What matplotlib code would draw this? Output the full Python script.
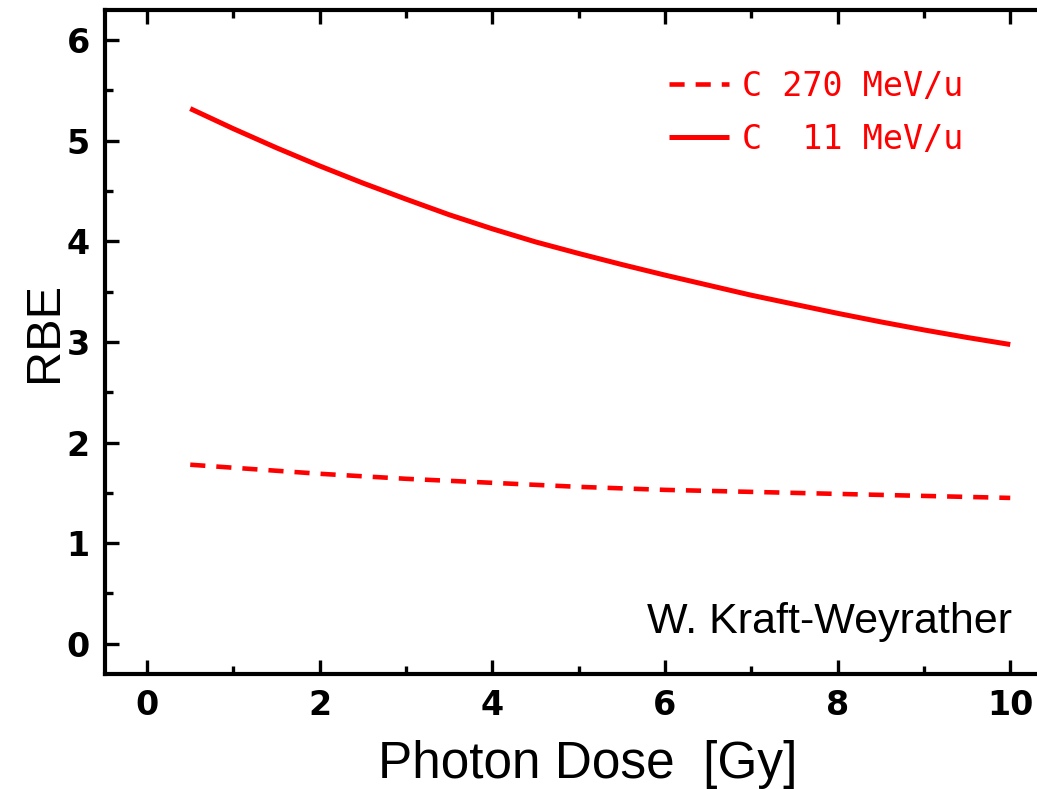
import matplotlib
matplotlib.use('Agg')
import matplotlib.pyplot as plt
from matplotlib.ticker import MultipleLocator

# RBE vs photon dose
dose_270 = [0.5, 1, 2, 3, 4, 5, 6, 7, 8, 9, 10]
rbe_270 = [1.78, 1.75, 1.69, 1.64, 1.60, 1.56, 1.53, 1.51, 1.49, 1.47, 1.45]

dose_11 = [0.5, 1, 1.5, 2, 2.5, 3, 3.5, 4, 4.5, 5, 5.5, 6, 6.5, 7, 7.5, 8, 8.5, 9, 9.5, 10]
rbe_11 = [5.32, 5.12, 4.93, 4.75, 4.58, 4.42, 4.265, 4.125, 3.995, 3.88, 3.77, 3.665,
          3.565, 3.465, 3.375, 3.285, 3.20, 3.12, 3.045, 2.975]

labels = ['C 270 MeV/u', 'C  11 MeV/u']
xticks = [0, 2, 4, 6, 8, 10]
yticks = [0, 1, 2, 3, 4, 5, 6]

fig = plt.figure(figsize=(10.37, 7.89), dpi=100)
ax = fig.add_axes([0.1013, 0.1458, 0.8987, 0.8415])

ax.plot(dose_270, rbe_270, color='#ff0000', lw=3.3, dashes=(3.3, 2.4), label=labels[0])
ax.plot(dose_11, rbe_11, color='#ff0000', lw=3.6, solid_capstyle='butt', label=labels[1])

ax.set_xlim(-0.487, 10.31)
ax.set_ylim(-0.3, 6.3)

ax.spines['right'].set_visible(False)
for s in ['left', 'bottom', 'top']:
    ax.spines[s].set_linewidth(3)

ax.set_xticks(xticks)
ax.set_yticks(yticks)
ax.xaxis.set_minor_locator(MultipleLocator(1))
ax.yaxis.set_minor_locator(MultipleLocator(0.5))
ax.tick_params(which='major', direction='in', length=10, width=2.4, top=True, right=False, pad=11)
ax.tick_params(which='minor', direction='in', length=6, width=2.4, top=True, right=False)
for lab in ax.get_xticklabels() + ax.get_yticklabels():
    lab.set_family('DejaVu Sans')
    lab.set_fontweight('bold')
    lab.set_fontsize(24)

ax.set_xlabel('Photon Dose  [Gy]', family=['Liberation Sans', 'DejaVu Sans'], fontsize=37, va='baseline')
ax.xaxis.set_label_coords(0.518, -0.1566)
ax.set_ylabel('RBE', family=['Liberation Sans', 'DejaVu Sans'], fontsize=35, va='baseline')
ax.yaxis.set_label_coords(-0.0515, 0.515)

ax.text(10.02, 0.11, 'W. Kraft-Weyrather', family=['Liberation Sans', 'DejaVu Sans'],
        fontsize=31, ha='right', va='baseline')

leg = ax.legend(loc='upper left', bbox_to_anchor=(0.587, 0.935), frameon=False, borderpad=0,
                handlelength=1.8, handletextpad=0.4, labelspacing=0.6,
                prop={'family': 'DejaVu Sans Mono', 'size': 24})
for t in leg.get_texts():
    t.set_color('#ff0000')

fig.savefig('out.png', dpi=100)
